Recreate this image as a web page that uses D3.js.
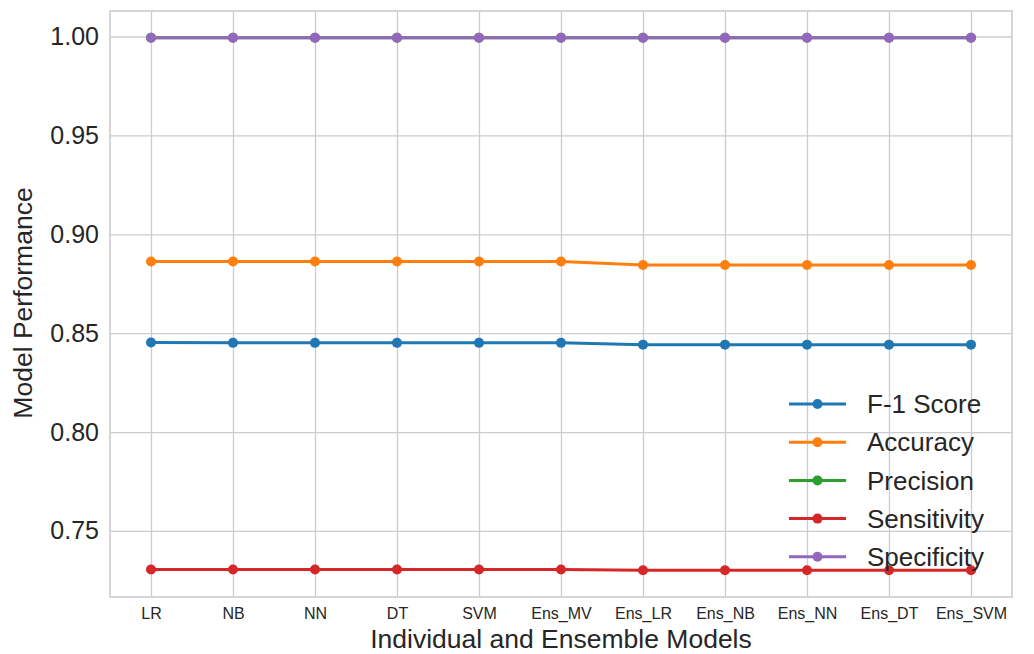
<!DOCTYPE html>
<html>
<head>
<meta charset="utf-8">
<script src="https://cdn.jsdelivr.net/npm/d3@7"></script>
<style>
  body { margin: 0; background: #fff; }
  svg { display: block; font-family: "Liberation Sans", Arial, Helvetica, sans-serif; }
  .grid line { stroke: #cccccc; stroke-width: 1.3; }
  .tick text { fill: #262626; }
</style>
</head>
<body>
<div id="chart"></div>
<script>
// model names on the x axis
const models = ['LR', 'NB', 'NN', 'DT', 'SVM', 'Ens_MV', 'Ens_LR', 'Ens_NB', 'Ens_NN', 'Ens_DT', 'Ens_SVM'];

// metric values
const f1Score     = [0.8453, 0.8451, 0.8451, 0.8451, 0.8451, 0.8451, 0.8442, 0.8442, 0.8442, 0.8442, 0.8442];
const accuracy    = [0.8862, 0.8862, 0.8862, 0.8862, 0.8862, 0.8862, 0.8845, 0.8845, 0.8845, 0.8845, 0.8845];
const precision   = [0.9994, 0.9994, 0.9994, 0.9994, 0.9994, 0.9994, 0.9994, 0.9994, 0.9994, 0.9994, 0.9994];
const sensitivity = [0.7305, 0.7305, 0.7305, 0.7305, 0.7305, 0.7305, 0.7301, 0.7301, 0.7301, 0.7301, 0.7301];
const specificity = [0.9994, 0.9994, 0.9994, 0.9994, 0.9994, 0.9994, 0.9994, 0.9994, 0.9994, 0.9994, 0.9994];

const yTicks = [0.75, 0.80, 0.85, 0.90, 0.95, 1.00];

const seriesNames = ['F-1 Score', 'Accuracy', 'Precision', 'Sensitivity', 'Specificity'];
const seriesValues = [f1Score, accuracy, precision, sensitivity, specificity];
const colors = ['#1f77b4', '#ff7f0e', '#2ca02c', '#d62728', '#9467bd'];

const W = 1034, H = 654;
const margin = { top: 11, left: 110, right: 22, bottom: 57 };
const width = W - margin.left - margin.right,
  height = H - margin.top - margin.bottom;

const series = seriesNames.map((name, i) => ({
  name: name,
  color: colors[i],
  values: seriesValues[i].map((v, j) => ({ model: models[j], value: v }))
}));

const svg = d3.select('#chart').append('svg')
    .attr('width', W)
    .attr('height', H);

const g = svg.append('g')
    .attr('transform', 'translate(' + margin.left + ',' + margin.top + ')');

const xScale = d3.scalePoint()
    .domain(models)
    .range([0, width])
    .padding(0.5);

const yScale = d3.scaleLinear()
    .domain([0.7166, 1.0129])
    .range([height, 0]);

// grid lines (drawn as axes with full-length ticks)
g.append('g')
    .attr('class', 'grid')
    .attr('transform', 'translate(0,' + height + ')')
    .call(d3.axisBottom(xScale).tickSize(-height).tickFormat(''))
    .call(a => a.select('.domain').remove());

g.append('g')
    .attr('class', 'grid')
    .call(d3.axisLeft(yScale).tickValues(yTicks).tickSize(-width).tickFormat(''))
    .call(a => a.select('.domain').remove());

// frame
g.append('rect')
    .attr('width', width)
    .attr('height', height)
    .attr('fill', 'none')
    .attr('stroke', '#cccccc')
    .attr('stroke-width', 1.6);

// x axis labels
const xAxis = g.append('g')
    .attr('transform', 'translate(0,' + height + ')')
    .call(d3.axisBottom(xScale).tickSize(0).tickPadding(11));
xAxis.select('.domain').remove();
xAxis.selectAll('text')
    .style('font-size', '16px')
    .attr('font-family', null);

// y axis labels
const yAxis = g.append('g')
    .call(d3.axisLeft(yScale).tickValues(yTicks).tickSize(0).tickPadding(11).tickFormat(d3.format('.2f')));
yAxis.select('.domain').remove();
yAxis.selectAll('text')
    .style('font-size', '25px')
    .attr('font-family', null);

// axis titles
svg.append('text')
    .attr('x', margin.left + width / 2)
    .attr('y', 648)
    .attr('text-anchor', 'middle')
    .style('font-size', '26.5px')
    .attr('fill', '#262626')
    .text('Individual and Ensemble Models');

svg.append('text')
    .attr('transform', 'translate(32,303) rotate(-90)')
    .attr('text-anchor', 'middle')
    .style('font-size', '26.5px')
    .attr('fill', '#262626')
    .text('Model Performance');

// lines and points
const line = d3.line()
    .x(d => xScale(d.model))
    .y(d => yScale(d.value));

const sg = g.selectAll('.series')
    .data(series)
  .enter().append('g')
    .attr('class', 'series');

sg.append('path')
    .attr('d', d => line(d.values))
    .attr('fill', 'none')
    .attr('stroke', d => d.color)
    .attr('stroke-width', 3);

sg.selectAll('circle')
    .data(d => d.values.map(v => Object.assign({ color: d.color }, v)))
  .enter().append('circle')
    .attr('cx', d => xScale(d.model))
    .attr('cy', d => yScale(d.value))
    .attr('r', 5)
    .attr('fill', d => d.color);

// legend, no frame
const legend = svg.append('g')
    .attr('transform', 'translate(789,404)');

const item = legend.selectAll('.item')
    .data(series)
  .enter().append('g')
    .attr('class', 'item')
    .attr('transform', (d, i) => 'translate(0,' + (i * 38.2) + ')');

item.append('line')
    .attr('x1', 0).attr('x2', 57)
    .attr('stroke', d => d.color)
    .attr('stroke-width', 3);

item.append('circle')
    .attr('cx', 28.5)
    .attr('r', 5)
    .attr('fill', d => d.color);

item.append('text')
    .attr('x', 78)
    .attr('dy', '0.35em')
    .style('font-size', '26px')
    .attr('fill', '#262626')
    .text(d => d.name);
</script>
</body>
</html>
